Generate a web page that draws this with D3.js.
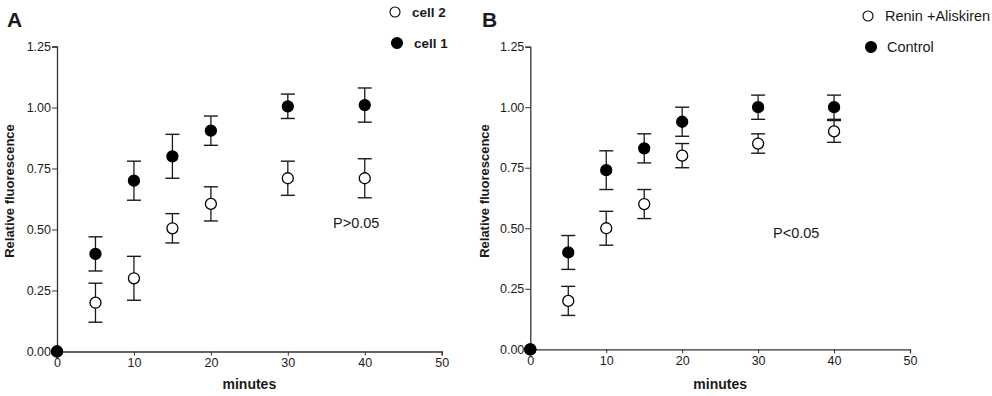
<!DOCTYPE html>
<html><head><meta charset="utf-8">
<script src="https://cdn.jsdelivr.net/npm/d3@7"></script>
<style>
body{margin:0;background:#fff;}
svg{display:block;font-family:"Liberation Sans",Arial,sans-serif;}
</style></head>
<body>
<svg id="c" width="992" height="396"></svg>
<script>
// ---- data ----
const minutes = [0, 5, 10, 15, 20, 30, 40];
const xTicks = [0, 10, 20, 30, 40, 50];
const yTicks = [0, 0.25, 0.5, 0.75, 1.0, 1.25];

// Panel A
const cell1Mean = [0, 0.40, 0.70, 0.80, 0.905, 1.005, 1.01];
const cell1Err  = [0, 0.07, 0.08, 0.09, 0.06, 0.05, 0.07];
const cell2Mean = [0, 0.20, 0.30, 0.505, 0.605, 0.71, 0.71];
const cell2Err  = [0, 0.08, 0.09, 0.06, 0.07, 0.07, 0.08];

// Panel B
const controlMean = [0, 0.40, 0.74, 0.83, 0.94, 1.00, 1.00];
const controlErr  = [0, 0.07, 0.08, 0.06, 0.06, 0.05, 0.05];
const reninMean   = [0, 0.20, 0.50, 0.60, 0.80, 0.85, 0.90];
const reninErr    = [0, 0.06, 0.07, 0.06, 0.05, 0.04, 0.045];

const svg = d3.select("#c");
const ink = "#1a1a1a";

function panel(cfg) {
  const x = d3.scaleLinear().domain([0, 50]).range([cfg.x0, cfg.x1]);
  const y = d3.scaleLinear().domain([0, 1.25]).range([cfg.y0, cfg.y1]);
  const g = svg.append("g");

  const xa = g.append("g").attr("transform", `translate(0,${cfg.y0})`)
    .call(d3.axisBottom(x).tickValues(xTicks).tickFormat(d3.format("d")).tickSize(4).tickPadding(3));
  const ya = g.append("g").attr("transform", `translate(${cfg.x0},0)`)
    .call(d3.axisLeft(y).tickValues(yTicks).tickFormat(d3.format(".2f")).tickSize(5).tickPadding(1));
  [xa, ya].forEach(a => {
    a.select(".domain").attr("stroke", "#333").attr("stroke-width", 1.3);
    a.selectAll(".tick line").attr("stroke", "#333").attr("stroke-width", 1);
    a.selectAll("text").attr("fill", ink).attr("font-size", 12.5)
      .attr("font-family", "Liberation Sans, Arial, sans-serif");
  });

  // axis titles
  g.append("text").attr("x", (cfg.x0 + cfg.x1) / 2 ).attr("y", 389)
    .attr("text-anchor", "middle").attr("font-weight", "bold").attr("font-size", 14)
    .attr("fill", ink).text("minutes");
  g.append("text").attr("transform", `translate(${cfg.ylx},${cfg.yly}) rotate(-90)`)
    .attr("text-anchor", "middle").attr("font-weight", "bold").attr("font-size", 13)
    .attr("fill", ink).text("Relative fluorescence");

  // panel letter
  g.append("text").attr("x", cfg.lx).attr("y", 27).attr("font-weight", "bold")
    .attr("font-size", 21).attr("fill", ink).text(cfg.letter);

  // p value
  g.append("text").attr("x", cfg.px).attr("y", cfg.py).attr("font-size", 14.5)
    .attr("fill", ink).text(cfg.ptext);

  // series
  cfg.series.forEach(s => {
    const data = minutes.map((m, i) => ({m, v: s.mean[i], e: s.err[i]}));
    const eb = g.append("g");
    data.filter(d => d.e > 0).forEach(d => {
      const cx = x(d.m);
      eb.append("line").attr("x1", cx).attr("x2", cx).attr("y1", y(d.v + d.e)).attr("y2", y(d.v - d.e))
        .attr("stroke", ink).attr("stroke-width", 1.3);
      [d.v + d.e, d.v - d.e].forEach(v => {
        eb.append("line").attr("x1", cx - 7).attr("x2", cx + 7).attr("y1", y(v)).attr("y2", y(v))
          .attr("stroke", ink).attr("stroke-width", 1.4);
      });
    });
  });
  cfg.series.forEach(s => {
    const data = minutes.map((m, i) => ({m, v: s.mean[i]}));
    g.append("g").selectAll("circle").data(data).join("circle")
      .attr("cx", d => x(d.m)).attr("cy", d => y(d.v)).attr("r", 5.5)
      .attr("fill", s.filled ? "#000" : "#fff").attr("stroke", "#000").attr("stroke-width", 1.3);
  });

  // legend
  cfg.legend.forEach(l => {
    g.append("circle").attr("cx", l.cx).attr("cy", l.cy).attr("r", l.filled ? 5.5 : 5)
      .attr("fill", l.filled ? "#000" : "#fff").attr("stroke", "#000").attr("stroke-width", 1.1);
    g.append("text").attr("x", l.tx).attr("y", l.cy).attr("dy", "0.35em")
      .attr("font-size", cfg.legendSize).attr("font-weight", cfg.legendWeight).attr("fill", ink).text(l.label);
  });
}

panel({
  x0: 57, x1: 441.7, y0: 351.5, y1: 46.5,
  ylx: 14, yly: 191, lx: 7, letter: "A",
  px: 333, py: 228, ptext: "P>0.05", legendWeight: "bold", legendSize: 13.5,
  series: [
    {mean: cell2Mean, err: cell2Err, filled: false},
    {mean: cell1Mean, err: cell1Err, filled: true}
  ],
  legend: [
    {cx: 395, cy: 12, tx: 412, label: "cell 2", filled: false},
    {cx: 397, cy: 43, tx: 414, label: "cell 1", filled: true}
  ]
});

panel({
  x0: 530.3, x1: 910, y0: 349.3, y1: 46.7,
  ylx: 489, yly: 191, lx: 482, letter: "B",
  px: 773, py: 238, ptext: "P<0.05", legendWeight: "normal", legendSize: 14.5,
  series: [
    {mean: reninMean, err: reninErr, filled: false},
    {mean: controlMean, err: controlErr, filled: true}
  ],
  legend: [
    {cx: 868, cy: 16, tx: 885, label: "Renin +Aliskiren", filled: false},
    {cx: 871, cy: 47, tx: 887, label: "Control", filled: true}
  ]
});
</script>
</body></html>
